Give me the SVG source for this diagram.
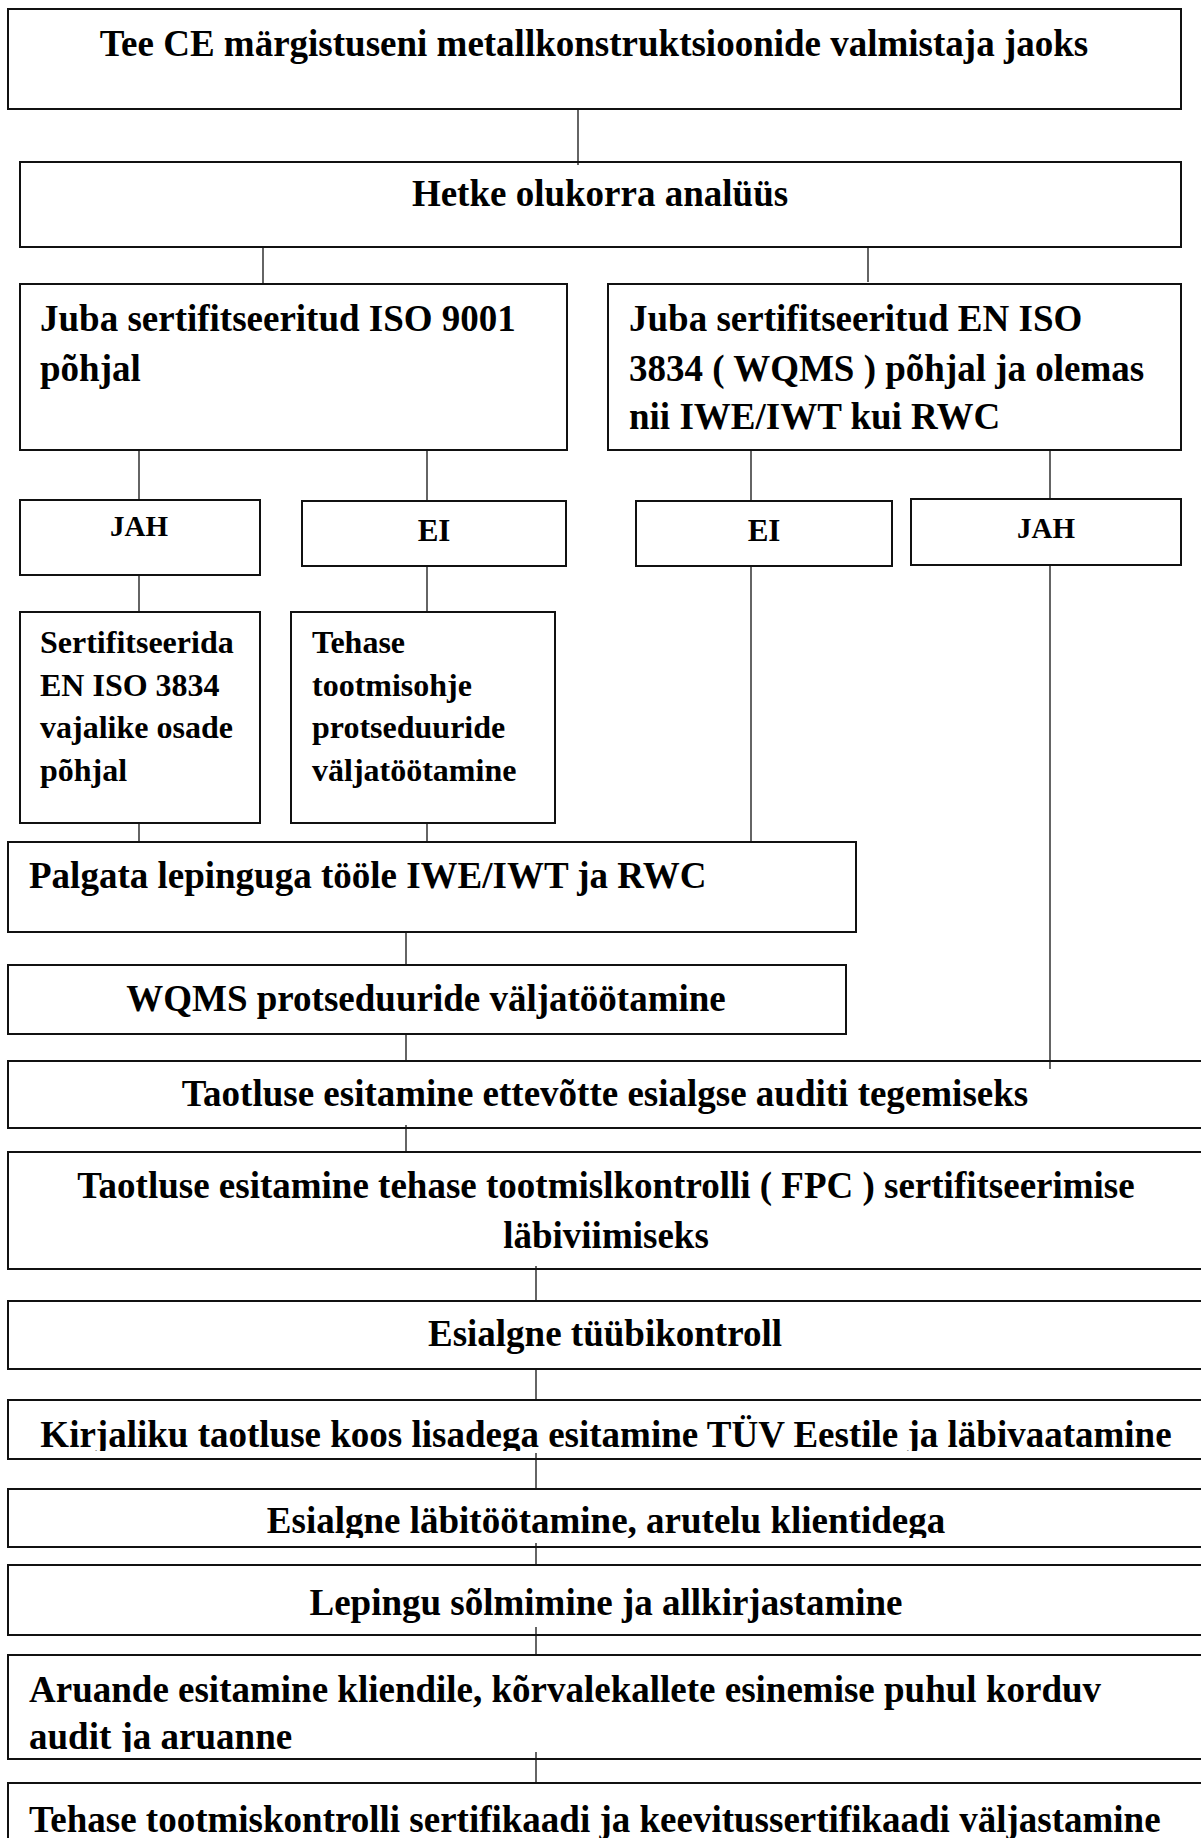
<svg xmlns="http://www.w3.org/2000/svg" width="1201" height="1838" viewBox="0 0 1201 1838">
<style>
.b{fill:#fff;stroke:#111;stroke-width:2}
.c{stroke:#111;stroke-width:1.3;fill:none}
.t{font-family:"Liberation Serif","Times New Roman",serif;font-weight:bold;font-size:37px;fill:#000}
.s{font-size:32px}
.m{text-anchor:middle}
</style>
<defs>
<clipPath id="clipK"><rect x="0" y="1395" width="1201" height="56"/></clipPath>
<clipPath id="clipL"><rect x="0" y="1485" width="1201" height="53"/></clipPath>
<clipPath id="clipA"><rect x="0" y="1650" width="1201" height="102"/></clipPath>
</defs>
<rect width="1201" height="1838" fill="#fff"/>
<g id="n1"><rect class="b" x="8" y="9" width="1173" height="100"/><text class="t m" x="594" y="56">Tee CE märgistuseni metallkonstruktsioonide valmistaja jaoks</text></g>
<g id="n2"><rect class="b" x="20" y="162" width="1161" height="85"/><text class="t m" x="600" y="206">Hetke olukorra analüüs</text></g>
<g id="n3"><rect class="b" x="20" y="284" width="547" height="166"/><text class="t" x="40" y="331">Juba sertifitseeritud ISO 9001</text><text class="t" x="40" y="381">põhjal</text></g>
<g id="n4"><rect class="b" x="608" y="284" width="573" height="166"/><text class="t" x="629" y="331">Juba sertifitseeritud EN ISO</text><text class="t" x="629" y="381">3834 ( WQMS ) põhjal ja olemas</text><text class="t" x="629" y="429">nii IWE/IWT kui RWC</text></g>
<g id="n5"><rect class="b" x="20" y="500" width="240" height="75"/><text class="t m" x="139" y="536" style="font-size:29px">JAH</text></g>
<g id="n6"><rect class="b" x="302" y="501" width="264" height="65"/><text class="t m" x="434" y="541" style="font-size:31px">EI</text></g>
<g id="n7"><rect class="b" x="636" y="501" width="256" height="65"/><text class="t m" x="764" y="541" style="font-size:31px">EI</text></g>
<g id="n8"><rect class="b" x="911" y="499" width="270" height="66"/><text class="t m" x="1046" y="538" style="font-size:29px">JAH</text></g>
<g id="n9"><rect class="b" x="20" y="612" width="240" height="211"/><text class="t s" x="40" y="653">Sertifitseerida</text><text class="t s" x="40" y="696">EN ISO 3834</text><text class="t s" x="40" y="738">vajalike osade</text><text class="t s" x="40" y="781">põhjal</text></g>
<g id="n10"><rect class="b" x="291" y="612" width="264" height="211"/><text class="t s" x="312" y="653">Tehase</text><text class="t s" x="312" y="696">tootmisohje</text><text class="t s" x="312" y="738">protseduuride</text><text class="t s" x="312" y="781">väljatöötamine</text></g>
<g id="n11"><rect class="b" x="8" y="842" width="848" height="90"/><text class="t" x="29" y="888">Palgata lepinguga tööle IWE/IWT ja RWC</text></g>
<g id="n12"><rect class="b" x="8" y="965" width="838" height="69"/><text class="t m" x="426" y="1011">WQMS protseduuride väljatöötamine</text></g>
<g id="n13"><rect class="b" x="8" y="1061" width="1210" height="67"/><text class="t m" x="605" y="1106">Taotluse esitamine ettevõtte esialgse auditi tegemiseks</text></g>
<g id="n14"><rect class="b" x="8" y="1152" width="1210" height="117"/><text class="t m" x="606" y="1198">Taotluse esitamine tehase tootmislkontrolli ( FPC ) sertifitseerimise</text><text class="t m" x="606" y="1248">läbiviimiseks</text></g>
<g id="n15"><rect class="b" x="8" y="1301" width="1210" height="68"/><text class="t m" x="605" y="1346">Esialgne tüübikontroll</text></g>
<g id="n16"><rect class="b" x="8" y="1400" width="1210" height="59"/><text class="t m" x="606" y="1447" clip-path="url(#clipK)">Kirjaliku taotluse koos lisadega esitamine TÜV Eestile ja läbivaatamine</text></g>
<g id="n17"><rect class="b" x="8" y="1489" width="1210" height="58"/><text class="t m" x="606" y="1533" clip-path="url(#clipL)">Esialgne läbitöötamine, arutelu klientidega</text></g>
<g id="n18"><rect class="b" x="8" y="1565" width="1210" height="70"/><text class="t m" x="606" y="1615">Lepingu sõlmimine ja allkirjastamine</text></g>
<g id="n19"><rect class="b" x="8" y="1655" width="1210" height="104"/><text class="t" x="29" y="1702">Aruande esitamine kliendile, kõrvalekallete esinemise puhul korduv</text><text class="t" x="29" y="1749" clip-path="url(#clipA)">audit ja aruanne</text></g>
<g id="n20"><rect class="b" x="8" y="1783" width="1210" height="80"/><text class="t" x="29" y="1832">Tehase tootmiskontrolli sertifikaadi ja keevitussertifikaadi väljastamine</text></g>
<g id="connectors">
<line class="c" x1="578" y1="109" x2="578" y2="165"/>
<line class="c" x1="263" y1="247" x2="263" y2="284"/>
<line class="c" x1="868" y1="247" x2="868" y2="282"/>
<line class="c" x1="139" y1="450" x2="139" y2="500"/>
<line class="c" x1="427" y1="450" x2="427" y2="501"/>
<line class="c" x1="751" y1="450" x2="751" y2="501"/>
<line class="c" x1="1050" y1="450" x2="1050" y2="499"/>
<line class="c" x1="139" y1="575" x2="139" y2="612"/>
<line class="c" x1="427" y1="566" x2="427" y2="612"/>
<line class="c" x1="751" y1="566" x2="751" y2="842"/>
<line class="c" x1="1050" y1="565" x2="1050" y2="1069"/>
<line class="c" x1="139" y1="823" x2="139" y2="842"/>
<line class="c" x1="427" y1="823" x2="427" y2="842"/>
<line class="c" x1="406" y1="932" x2="406" y2="965"/>
<line class="c" x1="406" y1="1034" x2="406" y2="1061"/>
<line class="c" x1="406" y1="1125" x2="406" y2="1152"/>
<line class="c" x1="536" y1="1266" x2="536" y2="1301"/>
<line class="c" x1="536" y1="1369" x2="536" y2="1400"/>
<line class="c" x1="536" y1="1453" x2="536" y2="1489"/>
<line class="c" x1="536" y1="1543" x2="536" y2="1565"/>
<line class="c" x1="536" y1="1627" x2="536" y2="1655"/>
<line class="c" x1="536" y1="1752" x2="536" y2="1783"/>
</g>
</svg>
